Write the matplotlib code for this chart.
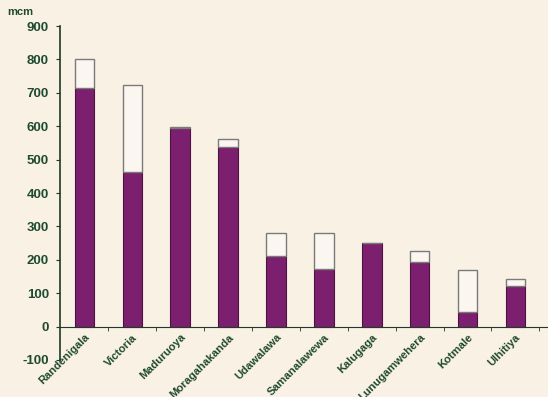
#!/usr/bin/env python3
"""Reservoir storage bar chart (mcm), stacked base + additional capacity."""

import matplotlib
matplotlib.use("Agg")
import matplotlib.pyplot as plt
import numpy as np

reservoirs = ["Randenigala", "Victoria", "Maduruoya", "Moragahakanda", "Udawalawa",
              "Samanalawewa", "Kalugaga", "Lunugamwehera", "Kotmale", "Ulhitiya"]
base_mcm = [715, 462, 595, 537, 212, 173, 250, 192, 43, 121]
total_mcm = [801, 723, 599, 561, 279, 279, 250, 227, 170, 144]
y_ticks = [-100, 0, 100, 200, 300, 400, 500, 600, 700, 800, 900]

BG = "#f9f1e3"
PURPLE = "#7c1f6e"
PURPLE_EDGE = "#4d1345"
TEXT = "#1f4a30"
AXIS = "#1e3a28"

plt.rcParams["font.family"] = ["Liberation Sans", "DejaVu Sans"]

fig = plt.figure(figsize=(5.48, 3.97), dpi=100, facecolor=BG)
ax = fig.add_axes([0.1095, 0.0932, 0.8905, 0.8413], facecolor=BG)

# spine position first: moving it resets the tick labels
for side in ["top", "right"]:
    ax.spines[side].set_visible(False)
ax.spines["bottom"].set_position(("data", 0))
ax.spines["bottom"].set_color(AXIS)
ax.spines["bottom"].set_zorder(4)
ax.spines["left"].set_color(AXIS)
ax.spines["left"].set_linewidth(1.2)

x = np.arange(len(reservoirs))
base = np.array(base_mcm)
extra = np.array(total_mcm) - base

ax.bar(x, base, width=0.41, color=PURPLE, edgecolor=PURPLE_EDGE, linewidth=0.8, zorder=3)
ax.bar(x, extra, bottom=base, width=0.41, color="#fbf6ef", edgecolor="#7a7a7a",
       linewidth=1.0, zorder=3)

ax.set_xlim(-0.51, 9.68)
ax.set_ylim(-100, 900)
ax.set_yticks(y_ticks)
ax.set_yticklabels([str(v) for v in y_ticks], fontsize=9.5, fontweight="bold", color=TEXT)

ax.set_xticks(x)
ax.set_xticklabels(reservoirs, rotation=45, ha="right", va="top", rotation_mode="anchor",
                   fontsize=8, fontweight="bold", color=TEXT)
ax.set_xticks(np.arange(0.5, 10.5, 1.0), minor=True)
ax.tick_params(axis="x", which="major", length=0, pad=4)
ax.tick_params(axis="x", which="minor", length=3, direction="out", color=AXIS)
ax.tick_params(axis="y", length=3, direction="out", color=AXIS, pad=5)

fig.text(0.013, 0.982, "mcm", fontsize=8, fontweight="bold", color=TEXT, va="top")

fig.savefig("out.png", dpi=100, facecolor=BG)
